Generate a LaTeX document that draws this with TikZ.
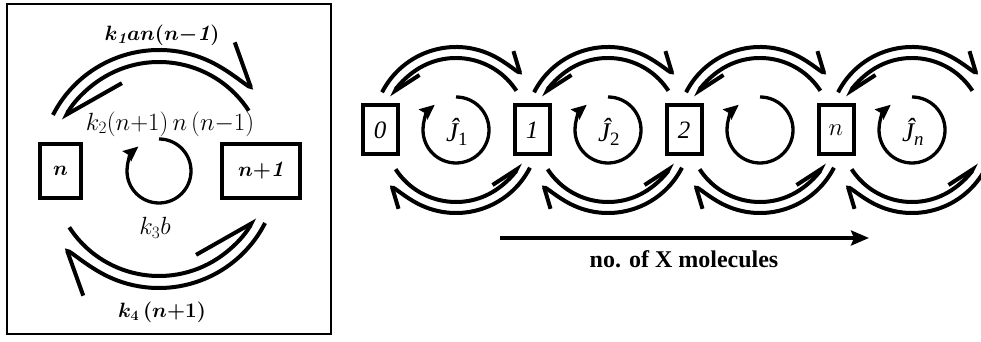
\documentclass[tikz,border=0pt]{standalone}
\usepackage{amsmath}
\usepackage{fontspec}
\newfontfamily\tms{Liberation Serif}
\usetikzlibrary{positioning, arrows.meta}

\begin{document}
\begin{tikzpicture}[x=1pt,y=1pt,
        flux/.style={line width=4pt},
        outbig/.style={flux, -{Straight Barb[harpoon, length=47pt, width=12pt]}},
        inbig/.style={flux, -{Straight Barb[harpoon, length=53pt, width=70pt]}},
        outsmall/.style={flux, -{Straight Barb[harpoon, length=22pt, width=8pt]}},
        insmall/.style={flux, -{Straight Barb[harpoon, length=25pt, width=29pt]}},
        turn/.style={line width=3.3pt, -{Stealth[length=15pt, width=13pt, inset=2pt]}},
        bigbox/.style={draw, line width=4pt, minimum height=54pt, inner sep=0pt},
        smallbox/.style={draw, line width=4pt, minimum width=35pt, minimum height=49pt, inner sep=0pt},
        lbl/.style={font=\fontsize{22}{26}\selectfont},
        rlbl/.style={font=\fontsize{25}{29}\selectfont\tms}]
    \useasboundingbox (0,0) rectangle (981,342);
    \clip (0,0) rectangle (981,342);
    % left panel
    \draw[line width=2pt] (7,338) rectangle (331,8);
    \coordinate (L) at (159,173);
    \coordinate (T) at (159,171);
    \node[bigbox, minimum width=41pt, lbl] (nL) at (60.5,171) {$\boldsymbol{n}$};
    \node[bigbox, minimum width=78pt, lbl] (n1L) at (261,171) {$\boldsymbol{n{+}}\textbf{\textit{1}}$};
    \draw[outbig] ([shift={(153:119)}]L) arc[start angle=153, end angle=27, radius=119];
    \draw[inbig] ([shift={(33:107)}]L) arc[start angle=33, end angle=153, radius=107];
    \draw[outbig] ([shift={(-27:119)}]L) arc[start angle=-27, end angle=-153, radius=119];
    \draw[inbig] ([shift={(-147:107)}]L) arc[start angle=-147, end angle=-27, radius=107];
    \draw[turn] ([shift={(90:32)}]T) arc[start angle=90, end angle=-230, radius=32];
    \node[lbl] (k1) at (162,307) {$\boldsymbol{k}_{\textbf{\textit{1}}}\boldsymbol{an(n{-}}\textbf{\textit{1}}\boldsymbol{)}$};
    \node[lbl, font=\fontsize{23}{27}\selectfont] (k2) at (170,218) {$k_2(n{+}1)\,n\,(n{-}1)$};
    \node[lbl, font=\fontsize{23}{27}\selectfont] (k3) at (155,114) {$k_3b$};
    \node[lbl] (k4) at (162,30) {$\boldsymbol{k_4\,(n{+}1)}$};
    % right panel
    \foreach \i/\lab in {0/{\itshape 0}, 1/{\itshape 1}, 2/{\itshape 2}, 3/{$n$}}
        \node[smallbox, rlbl] (b\i) at ({380+152*\i},212) {\lab};
    \foreach \i/\jlab in {1/{$\text{\itshape\^{J}}_{\text{1}}$}, 2/{$\text{\itshape\^{J}}_{\text{2}}$}, 3/{}, 4/{$\text{\itshape\^{J}}_{\text{\itshape n}}$}} {
        \coordinate (c\i) at ({456+152*(\i-1)},212);
        \draw[outsmall] ([shift={(153:83)}]c\i) arc[start angle=153, end angle=27, radius=83];
        \draw[insmall] ([shift={(33:72)}]c\i) arc[start angle=33, end angle=153, radius=72];
        \draw[outsmall] ([shift={(-27:83)}]c\i) arc[start angle=-27, end angle=-153, radius=83];
        \draw[insmall] ([shift={(-147:72)}]c\i) arc[start angle=-147, end angle=-27, radius=72];
        \draw[turn] ([shift={(90:33)}]c\i) arc[start angle=90, end angle=-230, radius=33];
        \node[rlbl, font=\fontsize{27}{31}\selectfont\tms] (j\i) at ([shift={(1,-2)}]c\i) {\jlab};
    }
    \coordinate (ax0) at (500,104);
    \coordinate (ax1) at (869,104);
    \draw[line width=3.5pt, -{Stealth[length=18pt, width=15pt, inset=3pt]}] (ax0) -- (ax1);
    \node[rlbl, font=\fontsize{24}{28}\selectfont\tms\bfseries, anchor=base] (axlab) at (684,74) {no. of X molecules};
\end{tikzpicture}
\end{document}
